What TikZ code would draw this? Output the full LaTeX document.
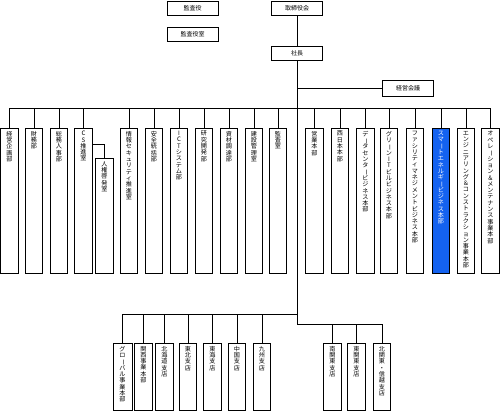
\documentclass[tikz,border=0pt]{standalone}
\usepackage{fontspec}
\usepackage{graphicx}
\newfontfamily\jp{Noto Sans CJK JP}
\definecolor{sblue}{RGB}{20,98,240}
\ExplSyntaxOn
\NewDocumentCommand\vt{m}{
  \vtop{
    \skip_set:Nn \baselineskip {6.3pt}
    \dim_set:Nn \lineskiplimit {-10pt}
    \tl_map_inline:nn {#1} {
      \hbox_to_wd:nn {8pt} {
        \hfil
        \str_if_eq:nnTF {##1} {ー}
          {\rotatebox[origin=c]{-90}{ー}}
          {##1}
        \hfil
      }
    }
  }
}
\ExplSyntaxOff
\tikzset{
  yaku/.style={draw, line width=0.8pt, minimum width=51pt, minimum height=14pt, inner sep=0pt,
    font=\jp\fontsize{6}{7}\selectfont},
  dept/.style={draw, line width=0.8pt, minimum width=17.5pt, minimum height=145pt, inner sep=0pt, anchor=north},
  shiten/.style={dept, minimum height=67pt},
  vlab/.style={anchor=north, yshift=-3pt, inner sep=0pt, font=\jp\fontsize{6.1}{6.3}\selectfont}
}
\begin{document}
\begin{tikzpicture}[x=1pt,y=-1pt]
\useasboundingbox (0,0) rectangle (500,411);
\node[yaku] (kansayaku) at (192.5,8) {監査役};
\node[yaku] (kansashitsu) at (192.5,34) {監査役室};
\node[yaku] (torishimari) at (297,8) {取締役会};
\node[yaku] (shacho) at (297,53) {社長};
\node[yaku, minimum height=16pt] (keieikaigi) at (408,88) {経営会議};
\coordinate (bus) at (297,108.5);
\coordinate (jl) at (297,314);
\coordinate (jr) at (297,324);
\node[dept, label={[vlab]north:\vt{経営企画部}}] (keiki) at (9.5,128) {};
\node[dept, label={[vlab]north:\vt{財務部}}] (zaimu) at (34,128) {};
\node[dept, label={[vlab]north:\vt{総務人事部}}] (somu) at (59,128) {};
\node[dept, label={[vlab]north:\vt{CS推進室}}] (cs) at (83.5,128) {};
\node[dept, minimum height=115pt, label={[vlab]north:\vt{人権啓発室}}] (jinken) at (104.5,158) {};
\node[dept, label={[vlab]north:\vt{情報セキュリティ推進室}}] (joho) at (129,128) {};
\node[dept, label={[vlab]north:\vt{安全統括部}}] (anzen) at (154,128) {};
\node[dept, label={[vlab]north:\vt{ICTシステム部}}] (ict) at (179,128) {};
\node[dept, label={[vlab]north:\vt{研究開発部}}] (kenkyu) at (204,128) {};
\node[dept, label={[vlab]north:\vt{資材調達部}}] (shizai) at (229,128) {};
\node[dept, label={[vlab]north:\vt{建設管理室}}] (kensetsu) at (254,128) {};
\node[dept, label={[vlab]north:\vt{監査室}}] (kansa) at (278,128) {};
\node[dept, label={[vlab]north:\vt{営業本部}}] (eigyo) at (314.5,128) {};
\node[dept, label={[vlab]north:\vt{西日本本部}}] (nishi) at (340,128) {};
\node[dept, label={[vlab]north:\vt{データセンタービジネス本部}}] (dc) at (365.5,128) {};
\node[dept, label={[vlab]north:\vt{グリーンITビルビジネス本部}}] (green) at (389,128) {};
\node[dept, label={[vlab]north:\vt{ファシリティマネジメントビジネス本部}}] (fm) at (415,128) {};
\node[dept, fill=sblue, label={[vlab,text=white]north:\vt{スマートエネルギービジネス本部}}] (smart) at (441,128) {};
\node[dept, label={[vlab]north:\vt{エンジニアリング＆コンストラクション事業本部}}] (eng) at (466,128) {};
\node[dept, label={[vlab]north:\vt{オペレーション＆メンテナンス事業本部}}] (ope) at (490.5,128) {};
\node[shiten, minimum width=19pt, label={[vlab]north:\vt{グローバル事業本部}}] (global) at (122.5,343) {};
\node[shiten, label={[vlab]north:\vt{関西事業本部}}] (kansai) at (143.5,343) {};
\node[shiten, label={[vlab]north:\vt{北海道支店}}] (hokkaido) at (164.5,343) {};
\node[shiten, label={[vlab]north:\vt{東北支店}}] (tohoku) at (188,343) {};
\node[shiten, label={[vlab]north:\vt{東海支店}}] (tokai) at (212.5,343) {};
\node[shiten, label={[vlab]north:\vt{中国支店}}] (chugoku) at (237,343) {};
\node[shiten, label={[vlab]north:\vt{九州支店}}] (kyushu) at (262,343) {};
\node[shiten, label={[vlab]north:\vt{南関東支店}}] (minami) at (332.5,343) {};
\node[shiten, label={[vlab]north:\vt{東関東支店}}] (higashi) at (356.5,343) {};
\node[shiten, label={[vlab]north:\vt{北関東・信越支店}}] (kita) at (382,343) {};
\begin{scope}[line width=0.9pt]
\draw (torishimari) -- (shacho);
\draw (shacho) -- (jr);
\draw (shacho |- keieikaigi) -- (keieikaigi);
\draw (keiki.north |- bus) -- (ope.north |- bus);
\foreach \d in {keiki,zaimu,somu,cs,joho,anzen,ict,kenkyu,shizai,kensetsu,kansa,eigyo,nishi,dc,green,fm,smart,eng,ope}
  \draw (\d.north) -- (\d.north |- bus);
\draw ([yshift=-16pt]cs.north east) -| (jinken.north);
\draw (jl) -| (global.north);
\foreach \d in {kansai,hokkaido,tohoku,tokai,chugoku,kyushu}
  \draw (\d.north) -- (\d.north |- jl);
\draw (jr) -| (kita.north);
\foreach \d in {minami,higashi}
  \draw (\d.north) -- (\d.north |- jr);
\end{scope}
\end{tikzpicture}
\end{document}
